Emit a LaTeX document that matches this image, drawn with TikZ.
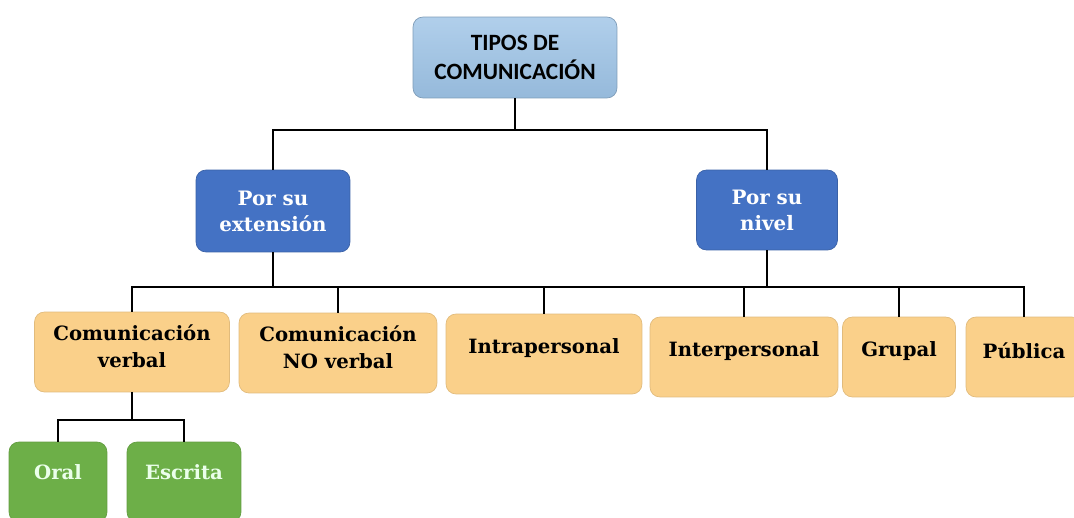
\documentclass[tikz,border=0pt]{standalone}
\usepackage{fontspec}
\newfontfamily\slabfont{DejaVu Serif}
\newfontfamily\headfont{Carlito}
\usepackage{xcolor}
\usetikzlibrary{positioning}
\definecolor{rootblue}{HTML}{9DC3E6}
\definecolor{branchblue}{HTML}{4472C4}
\definecolor{leaforange}{HTML}{FAD08A}
\definecolor{subgreen}{HTML}{6DAF48}

\begin{document}
\begin{tikzpicture}[x=0.02cm, y=-0.02cm,
  box/.style={rectangle, rounded corners=0.2cm, inner sep=0pt, minimum height=1.6cm},
  root/.style={box, top color=rootblue!80!white, bottom color=rootblue!95!black, draw=rootblue!80!black, minimum width=4.08cm, minimum height=1.62cm, align=center, font=\headfont\bfseries\fontsize{13.3}{16.5}\selectfont},
  branch/.style={box, fill=branchblue, draw=branchblue!85!black, text=white, align=center, font=\slabfont\bfseries\fontsize{11.3}{14.7}\selectfont},
  leaf/.style={box, fill=leaforange, draw=leaforange!90!black},
  leaftext/.style={align=center, yshift=3.5pt, font=\slabfont\bfseries\fontsize{11.2}{15.3}\selectfont},
  sub/.style={box, fill=subgreen, draw=subgreen!90!black},
  subtext/.style={yshift=5.5pt, text=green!8!white, font=\slabfont\bfseries\fontsize{11.2}{14}\selectfont},
  link/.style={draw=black, line width=1.3pt}]

\useasboundingbox (0,0) rectangle (1074,517);

% Root
\node[root] (root) at (515,57.5) {TIPOS DE\\COMUNICACIÓN};

% Branches
\node[branch, minimum width=3.08cm, minimum height=1.64cm] (ext) at (273,211) {Por su\\extensión};
\node[branch, minimum width=2.82cm] (niv) at (767,210) {Por su\\nivel};

% Leaves
\node[leaf, minimum width=3.9cm, label={[leaftext]center:{Comunicación\\verbal}}] (verbal) at (132,352) {};
\node[leaf, minimum width=3.96cm, label={[leaftext]center:{Comunicación\\NO verbal}}] (noverbal) at (338,353) {};
\node[leaf, minimum width=3.92cm, label={[leaftext]center:Intrapersonal}] (intra) at (544,354) {};
\node[leaf, minimum width=3.76cm, label={[leaftext]center:Interpersonal}] (inter) at (744,357) {};
\node[leaf, minimum width=2.26cm, label={[leaftext]center:Grupal}] (grupal) at (899,357) {};
\node[leaf, minimum width=2.32cm, label={[leaftext]center:Pública}] (publica) at (1024,357) {};

% Sub-leaves of verbal
\node[sub, minimum width=1.96cm, label={[subtext]center:Oral}] (oral) at (58,482) {};
\node[sub, minimum width=2.28cm, label={[subtext]center:Escrita}] (escrita) at (184,482) {};

% Connectors root -> branches
\coordinate (busTop) at (515,130);
\draw[link] (root.south) -- (busTop);
\draw[link] (ext.north) |- (busTop) -| (niv.north);

% Connectors branches -> leaves
\coordinate (busMid) at (273,287);
\draw[link] (ext.south) -- (busMid);
\draw[link] (niv.south) -- (niv.south |- busMid);
\foreach \n in {verbal,noverbal,intra,inter,grupal,publica}
  \draw[link] (busMid) -| (\n.north);

% Connectors verbal -> oral / escrita
\coordinate (busLow) at (132,420);
\draw[link] (verbal.south) -- (busLow);
\draw[link] (oral.north) |- (busLow) -| (escrita.north);

\end{tikzpicture}
\end{document}
